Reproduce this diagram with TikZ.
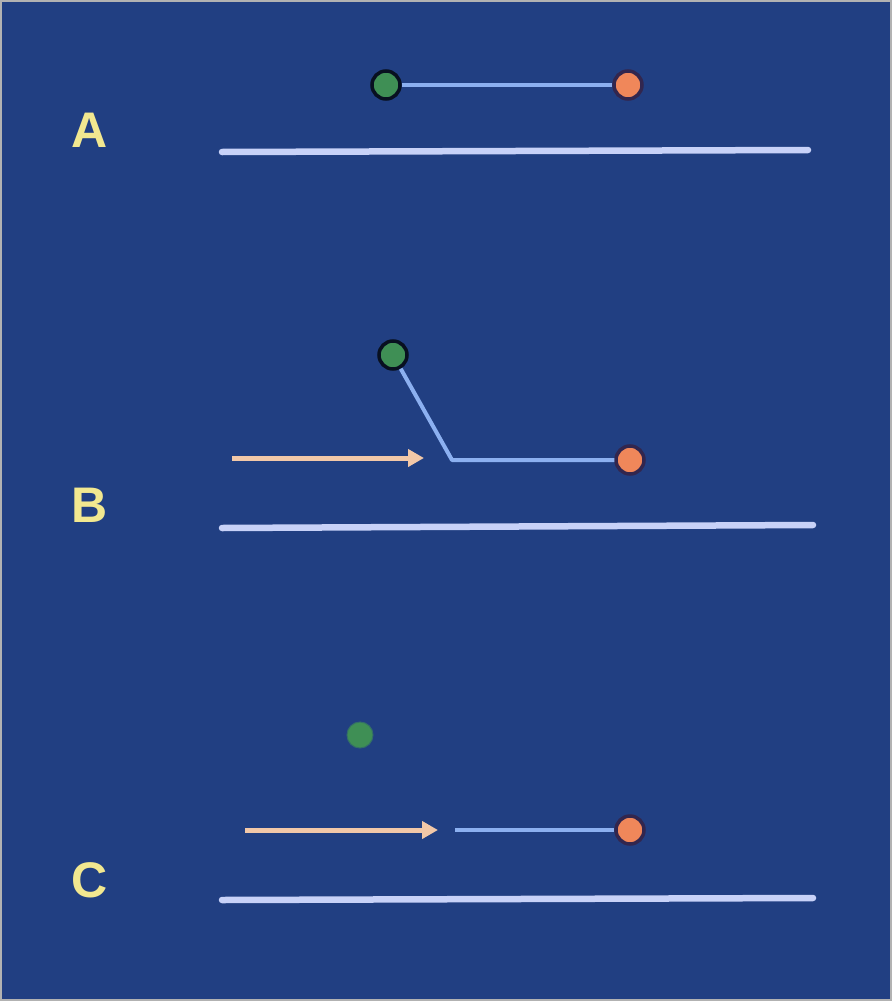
\documentclass[tikz,border=0pt]{standalone}
\usepackage{fontspec}
\setmainfont{Liberation Sans}
\usetikzlibrary{arrows.meta}
\definecolor{bg}{HTML}{213F82}
\definecolor{rail}{HTML}{C8D2F8}
\definecolor{link}{HTML}{8CB0F0}
\definecolor{gdot}{HTML}{3F8F55}
\definecolor{odot}{HTML}{F0875A}
\definecolor{lab}{HTML}{F2E890}
\definecolor{arr}{HTML}{F2C8A8}
\begin{document}
\begin{tikzpicture}[x=1pt,y=-1pt,
  green/.style={circle,fill=gdot,draw=black!75!bg,line width=3.5pt,minimum size=28pt,inner sep=0pt},
  orange/.style={circle,fill=odot,draw=black!70!red!40!bg,line width=3.5pt,minimum size=28pt,inner sep=0pt},
  railline/.style={draw=rail,line width=6.5pt,line cap=round},
  linkline/.style={draw=link,line width=4pt},
  push/.style={draw=arr,line width=5pt,-{Triangle[length=16pt,width=17pt]}},
  letter/.style={text=lab,font=\bfseries\fontsize{50}{52}\selectfont,inner sep=0pt}]
\fill[bg] (0,0) rectangle (892,1001);
\draw[gray!60,line width=2pt] (1,1) rectangle (891,1000);
% A
\node[letter] (la) at (90,130) {A};
\node[green] (ga) at (386,85) {};
\node[orange] (oa) at (628,85) {};
\draw[linkline] (ga) -- (oa);
\coordinate (ra1) at (222,152); \coordinate (ra2) at (808,150);
\draw[railline] (ra1) -- (ra2);
% B
\node[letter] (lb) at (90,505) {B};
\node[green] (gb) at (393,355) {};
\node[orange] (ob) at (630,460) {};
\coordinate (kb) at (452,460);
\draw[linkline,line join=round] (gb) -- (kb) -- (ob);
\coordinate (ab1) at (232,458); \coordinate (ab2) at (424,458);
\draw[push] (ab1) -- (ab2);
\coordinate (rb1) at (222,528); \coordinate (rb2) at (813,525);
\draw[railline] (rb1) -- (rb2);
% C
\node[letter] (lc) at (90,880) {C};
\node[green,draw=gdot!60!bg,line width=1pt,minimum size=26pt] (gc) at (360,735) {};
\node[orange] (oc) at (630,830) {};
\coordinate (cc) at (455,830);
\draw[linkline] (cc) -- (oc);
\coordinate (ac1) at (245,830); \coordinate (ac2) at (438,830);
\draw[push] (ac1) -- (ac2);
\coordinate (rc1) at (222,900); \coordinate (rc2) at (813,898);
\draw[railline] (rc1) -- (rc2);
\end{tikzpicture}
\end{document}
